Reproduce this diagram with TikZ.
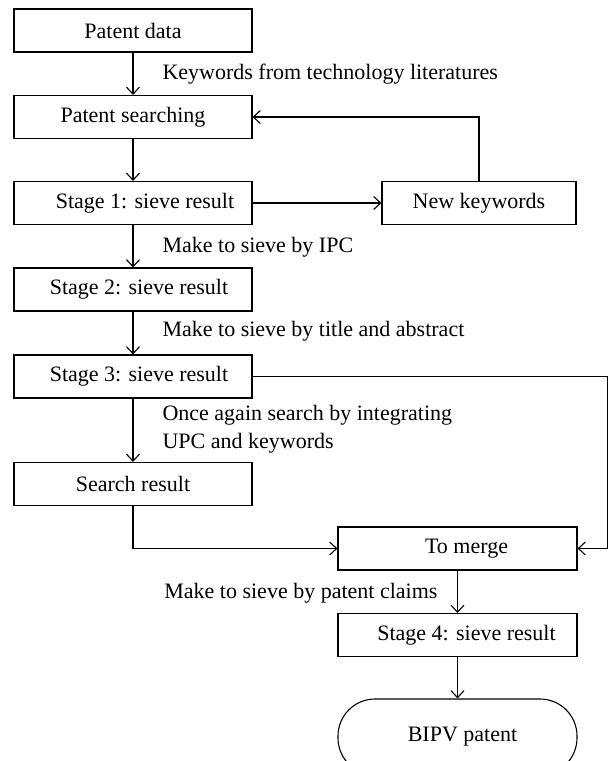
\documentclass[tikz,border=0pt]{standalone}
\usepackage{fontspec}
\setmainfont{Liberation Serif}
\usetikzlibrary{arrows.meta}

\begin{document}
\begin{tikzpicture}[x=1pt, y=-1pt, line width=1.1pt,
    >={Straight Barb[length=7pt,width=13pt]},
    every node/.style={font=\fontsize{22}{28}\selectfont},
    box/.style={draw, inner sep=0pt, minimum width=238pt, minimum height=43pt},
    lbl/.style={inner sep=0pt, align=left}]
    \useasboundingbox (0, 0) rectangle (608, 761);
    \node [box] (data) at (133, 30.5) {Patent data};
    \node [box] (srch) at (133, 117) {Patent searching};
    \node [box] (s1) at (133, 203) {\hspace*{24pt}Stage 1: sieve result};
    \node [box, minimum width=194pt] (kw) at (479, 203) {New keywords};
    \node [box] (s2) at (133, 289.5) {\hspace*{12pt}Stage 2: sieve result};
    \node [box] (s3) at (133, 376.5) {\hspace*{12pt}Stage 3: sieve result};
    \node [box] (res) at (133, 484) {Search result};
    \node [box, minimum width=239pt] (mrg) at (457.5, 548.5) {\hspace*{18pt}To merge};
    \node [box, minimum width=239pt] (s4) at (457.5, 635) {\hspace*{18pt}Stage 4: sieve result};
    \node [draw, rounded corners=37pt, minimum width=239pt, minimum height=76pt] (bipv) at (457.5, 737) {\hspace*{10pt}BIPV patent};
    \coordinate (rt) at (608, 376.5);
    % labels
    \node [lbl, anchor=west] (l1) at (162, 74) {Keywords from technology literatures};
    \node [lbl, anchor=west] (l2) at (162, 247) {Make to sieve by IPC};
    \node [lbl, anchor=west] (l3) at (162, 331) {Make to sieve by title and abstract};
    \node [lbl, anchor=west] (l4) at (162, 429) {Once again search by integrating\\UPC and keywords};
    \node [lbl, anchor=east] (l5) at (438, 593) {Make to sieve by patent claims};
    % connectors
    \draw [->] (data) to (srch);
    \draw [->] (srch) to (s1);
    \draw [->] (s1) to (kw);
    \draw [->] (kw.north) |- (srch.east);
    \draw [->] (s1) to (s2);
    \draw [->] (s2) to (s3);
    \draw [->] (s3) to (res);
    \draw [->] (s3.east) -- (rt) |- (mrg.east);
    \draw [->] (res.south) |- (mrg.west);
    \draw [->] (mrg) to (s4);
    \draw [->] (s4) to (bipv);
  \end{tikzpicture}
\end{document}
